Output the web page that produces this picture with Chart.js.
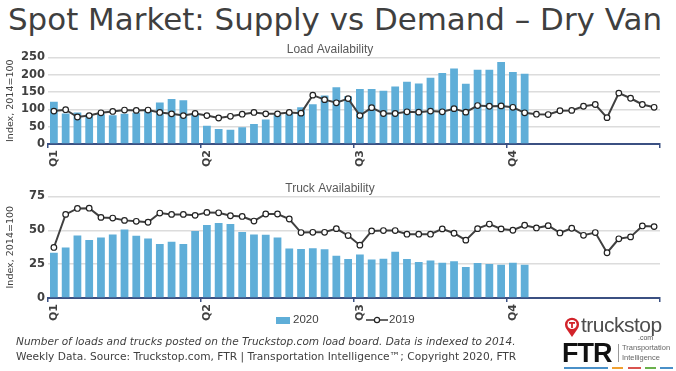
<!DOCTYPE html>
<html>
<head>
<meta charset="utf-8">
<script src="https://cdn.jsdelivr.net/npm/chart.js@4.4.1/dist/chart.umd.min.js"></script>
<style>
  body { margin: 0; width: 676px; height: 371px; background: #fff; position: relative; overflow: hidden; font-family: "DejaVu Sans", sans-serif; }
  .abs { position: absolute; white-space: nowrap; }
  #title { left: 8px; top: 1px; font-size: 31px; color: #3f3f3f; transform-origin: left top; }
  #c1 { position: absolute; left: 0; top: 39px; }
  #c2 { position: absolute; left: 0; top: 178px; }
  .foot { left: 16px; font-size: 11px; color: #404040; transform-origin: left top; }
  #f1 { top: 335px; font-style: italic; }
  #f2 { top: 350px; }
  .leg { font-family: "Liberation Sans", sans-serif; font-size: 11.5px; color: #404040; top: 313px; }
</style>
</head>
<body>
<div id="title" class="abs">Spot Market: Supply vs Demand – Dry Van</div>
<canvas id="c1" width="676" height="130"></canvas>
<canvas id="c2" width="676" height="145"></canvas>

<!-- legend -->
<div class="abs" style="left:276px;top:317px;width:14px;height:7px;background:#5faed8"></div>
<div class="abs leg" style="left:293px">2020</div>
<svg class="abs" style="left:366px;top:315px" width="22" height="10">
  <line x1="0" y1="5" x2="22" y2="5" stroke="#333" stroke-width="1.5"/>
  <circle cx="11" cy="5" r="2.6" fill="#fff" stroke="#222" stroke-width="1.2"/>
</svg>
<div class="abs leg" style="left:389px">2019</div>

<!-- footer -->
<div id="f1" class="abs foot">Number of loads and trucks posted on the Truckstop.com load board. Data is indexed to 2014.</div>
<div id="f2" class="abs foot">Weekly Data. Source: Truckstop.com, FTR | Transportation Intelligence™; Copyright 2020, FTR</div>

<!-- logos -->
<svg class="abs" style="left:564px;top:317px" width="16" height="21">
  <path d="M8 20 L2.5 12 A7 7 0 1 1 13.5 12 Z" fill="#d2232a"/>
  <circle cx="8" cy="7.5" r="4.6" fill="#fff"/>
  <rect x="5" y="5" width="6" height="1.8" fill="#d2232a"/>
  <rect x="7.1" y="5" width="1.8" height="6" fill="#d2232a"/>
</svg>
<div class="abs" style="left:581px;top:313px;font:21px 'Liberation Sans';color:#4d4d4d;letter-spacing:-0.5px">truckstop</div>
<div class="abs" style="left:638px;top:334px;font:7px 'Liberation Sans';color:#555">.com</div>
<div class="abs" style="left:562px;top:338px;font:bold 27px 'Liberation Sans';color:#111;letter-spacing:-1px">FTR</div>
<div class="abs" style="left:618px;top:344px;width:1px;height:18px;background:#999"></div>
<div class="abs" style="left:622px;top:343px;font:7.5px 'Liberation Sans';color:#666;line-height:10px">Transportation<br>Intelligence</div>
<div class="abs" style="left:564px;top:367px;width:44px;height:2px;background:#4a90c8"></div>
<div class="abs" style="left:612px;top:367px;width:11px;height:2px;background:#f0a030"></div>
<div class="abs" style="left:628px;top:367px;width:13px;height:2px;background:#d9534f"></div>
<div class="abs" style="left:645px;top:367px;width:11px;height:2px;background:#6ab04c"></div>
<div class="abs" style="left:660px;top:367px;width:13px;height:2px;background:#4a90c8"></div>

<script>
// ---------------- data ----------------
var weeks = Array.from({length: 52}, function (_, i) { return "W" + (i + 1); });
var quarterLabels = ["Q1", "Q2", "Q3", "Q4"];
var quarterStart = [0, 13, 26, 39];

var load2020 = [122, 88, 91, 86, 86, 83, 87, 90, 96, 120, 130, 126, 88,
  53, 43, 41, 48, 58, 71, 84, 89, 106, 115, 140, 164, 138,
  159, 159, 154, 166, 180, 175, 191, 205, 218, 174, 214, 214, 237, 208, 203];
var load2019 = [95, 99, 78, 82, 90, 94, 98, 97, 98, 91, 87, 82, 88,
  82, 75, 80, 86, 91, 87, 87, 91, 89, 141, 128, 119, 131,
  82, 105, 88, 88, 93, 92, 95, 93, 102, 92, 111, 109, 110,
  106, 90, 86, 85, 96, 97, 109, 114, 76, 147, 132, 114, 106];

var truck2020 = [33.4, 37.3, 46.1, 42.9, 44.6, 46.8, 50.5, 45.9, 43.9, 39.8, 41.5, 39.8, 49.5,
  53.9, 55.4, 54.6, 48.8, 46.8, 46.6, 44.6, 36.6, 36.1, 36.8, 35.9, 31.2, 28.8,
  32.2, 28.5, 29, 34.1, 28.8, 26.6, 27.6, 26.1, 27.1, 22.9, 25.9, 25.1, 24.6, 26.1, 24.6];
var truck2019 = [37.3, 61.7, 66.1, 66.3, 59.5, 59, 57.3, 56.6, 55.9, 62.7, 61.7, 61.7, 61,
  63.2, 62.9, 60.7, 60.2, 56.8, 62, 62, 58.3, 48.3, 48.5, 48.5, 51.2, 46.1,
  39, 49.5, 49.8, 49.8, 47.1, 47.1, 47.1, 51, 47.8, 42.7, 51.2, 54.6, 51, 50,
  53.7, 51.7, 53.4, 48, 51.5, 46.3, 48.3, 33.4, 43.7, 45.1, 53.2, 52.7];

// ---------------- fit text widths ----------------
function fit(id, w) {
  var el = document.getElementById(id);
  el.style.transform = "scaleX(" + (w / el.scrollWidth) + ")";
}
fit("title", 654);
fit("f1", 500);
fit("f2", 500);

// ---------------- charts ----------------
var axisBlue = "#3b5082";
var barBlue = "#5faed8";

function makeChart(id, title, bars, line, max, step) {
  return new Chart(document.getElementById(id), {
    type: "bar",
    data: {
      labels: weeks,
      datasets: [
        {
          type: "line",
          label: "2019",
          data: line,
          borderColor: "#404040",
          borderWidth: 2,
          pointRadius: 2.8,
          pointBackgroundColor: "#fff",
          pointBorderColor: "#222",
          pointBorderWidth: 1.2,
          tension: 0,
          order: 0
        },
        {
          label: "2020",
          data: bars,
          backgroundColor: barBlue,
          barPercentage: 0.66,
          categoryPercentage: 1,
          order: 1
        }
      ]
    },
    options: {
      responsive: false,
      animation: false,
      devicePixelRatio: 1,
      layout: { padding: { right: 16, bottom: 0 } },
      plugins: {
        legend: { display: false },
        tooltip: { enabled: false },
        title: {
          display: true,
          text: title,
          color: "#595959",
          font: { family: "Liberation Sans", size: 12, weight: "normal" },
          padding: { top: 3, bottom: 1 }
        }
      },
      scales: {
        x: {
          offset: true,
          grid: {
            display: true,
            offset: true,
            drawOnChartArea: false,
            drawTicks: true,
            tickLength: 4,
            lineWidth: 1.5,
            color: function (c) {
              if (c.type !== "tick") return axisBlue;
              return quarterStart.indexOf(c.index) >= 0 ? axisBlue : "transparent";
            }
          },
          border: { display: true, color: axisBlue, width: 2 },
          ticks: {
            autoSkip: false,
            minRotation: 90,
            maxRotation: 90,
            padding: 2,
            color: "#404040",
            font: { family: "DejaVu Sans", size: 11, weight: "bold" },
            callback: function (v, i) {
              var q = quarterStart.indexOf(i);
              return q >= 0 ? quarterLabels[q] : "";
            }
          }
        },
        y: {
          min: 0,
          max: max,
          afterFit: function (s) { s.width = 48; },
          grid: { color: "#dcdcdc", lineWidth: 1.5, drawTicks: false },
          border: { display: false },
          ticks: {
            stepSize: step,
            padding: 3,
            color: "#404040",
            font: { family: "DejaVu Sans", size: 11.5, weight: "bold" }
          },
          title: {
            display: true,
            text: "Index, 2014=100",
            color: "#404040",
            font: { family: "DejaVu Sans", size: 9.5 },
            padding: { top: 5, bottom: 0 }
          }
        }
      }
    }
  });
}

makeChart("c1", "Load Availability", load2020, load2019, 250, 50);
makeChart("c2", "Truck Availability", truck2020, truck2019, 75, 25);
</script>
</body>
</html>
